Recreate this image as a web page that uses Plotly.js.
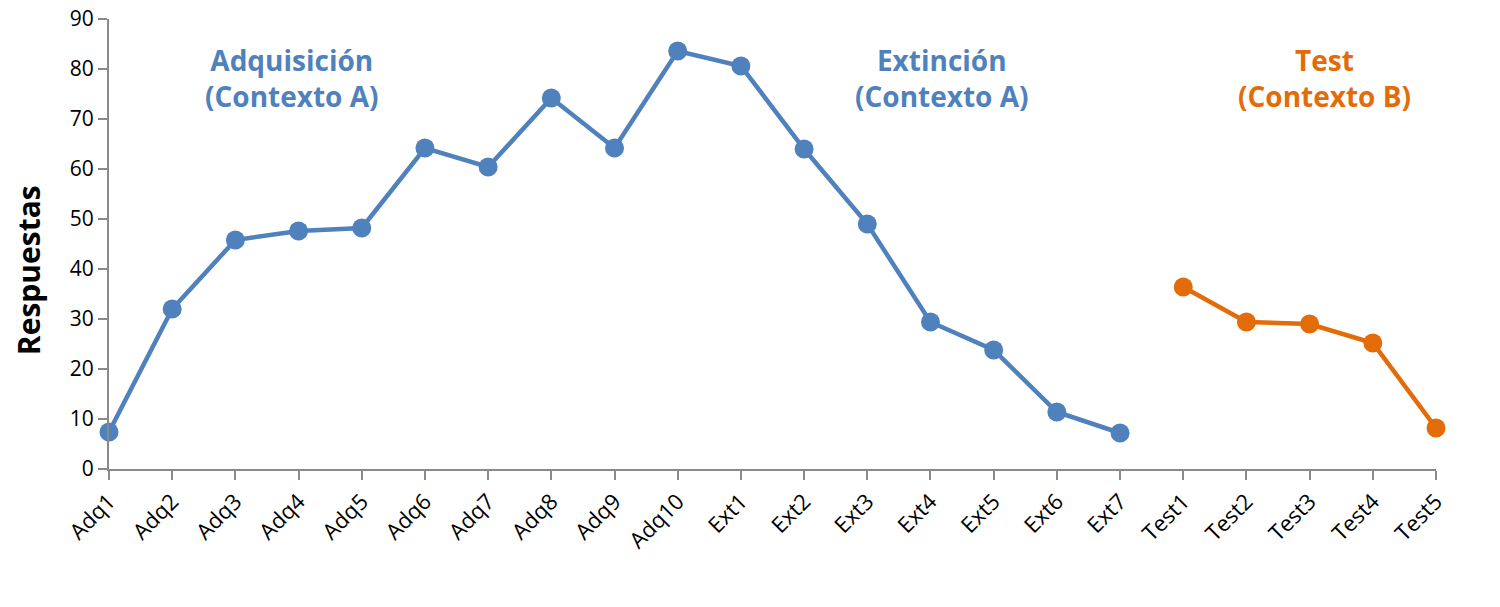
<!DOCTYPE html>
<html>
<head>
<meta charset="utf-8">
<script src="https://cdn.plot.ly/plotly-3.0.1.min.js"></script>
<style>html,body{margin:0;padding:0;background:#fff}#chart{width:1500px;height:607px}</style>
</head>
<body>
<div id="chart"></div>
<script>
const categories = ["Adq1","Adq2","Adq3","Adq4","Adq5","Adq6","Adq7","Adq8","Adq9","Adq10",
  "Ext1","Ext2","Ext3","Ext4","Ext5","Ext6","Ext7","Test1","Test2","Test3","Test4","Test5"];
const contextA_labels = ["Adq1","Adq2","Adq3","Adq4","Adq5","Adq6","Adq7","Adq8","Adq9","Adq10",
  "Ext1","Ext2","Ext3","Ext4","Ext5","Ext6","Ext7"];
const contextA_values = [7.4, 32, 45.8, 47.6, 48.2, 64.2, 60.4, 74.2, 64.2, 83.6,
  80.6, 64, 49, 29.4, 23.8, 11.4, 7.2];
const contextB_labels = ["Test1","Test2","Test3","Test4","Test5"];
const contextB_values = [36.4, 29.4, 29, 25.2, 8.2];
const yTicks = [0,10,20,30,40,50,60,70,80,90];
const yTitle = "Respuestas";

const blue = "#4F81BD", orange = "#E36C09";
const traces = [
  {x: contextA_labels, y: contextA_values, type: "scatter", mode: "lines+markers",
   line: {color: blue, width: 4.5}, marker: {color: blue, size: 19}, cliponaxis: false},
  {x: contextB_labels, y: contextB_values, type: "scatter", mode: "lines+markers",
   line: {color: orange, width: 4.5}, marker: {color: orange, size: 19}, cliponaxis: false}
];
const annFont = (c) => ({family: "Open Sans, sans-serif", size: 28, color: c});
const ann = (t, x, c) => ({text: t, xref: "paper", yref: "paper", x: x, y: 0.869,
  xanchor: "center", yanchor: "middle", showarrow: false, font: annFont(c), align: "center"});
const layout = {
  width: 1500, height: 607,
  margin: {l: 109, r: 64, t: 19, b: 138},
  paper_bgcolor: "#fff", plot_bgcolor: "#fff",
  showlegend: false,
  font: {family: "Open Sans, sans-serif", size: 21, color: "#000"},
  xaxis: {
    type: "category", categoryorder: "array", categoryarray: categories,
    range: [0, 21], showgrid: false, zeroline: false,
    showline: true, linecolor: "#8a8a8a", linewidth: 2,
    ticks: "outside", ticklen: 9, tickwidth: 2, tickcolor: "#8a8a8a",
    tickangle: -45, tickfont: {size: 22, color: "#000"}
  },
  yaxis: {
    range: [0, 90], tickvals: yTicks, showgrid: false, zeroline: false,
    showline: true, linecolor: "#8a8a8a", linewidth: 2,
    ticks: "outside", ticklen: 9, tickwidth: 2, tickcolor: "#8a8a8a",
    tickfont: {size: 21, color: "#000"}
  },
  annotations: [
    ann("<b>Adquisición<br>(Contexto A)</b>", 0.138, blue),
    ann("<b>Extinción<br>(Contexto A)</b>", 0.628, blue),
    ann("<b>Test<br>(Contexto B)</b>", 0.916, orange),
    {text: "<b>" + yTitle + "</b>", xref: "paper", yref: "paper", x: -0.061, y: 0.442,
     xanchor: "center", yanchor: "middle", textangle: -90, showarrow: false,
     font: {family: "Open Sans, sans-serif", size: 30, color: "#000"}}
  ]
};
Plotly.newPlot("chart", traces, layout, {displayModeBar: false, staticPlot: true});
</script>
</body>
</html>
